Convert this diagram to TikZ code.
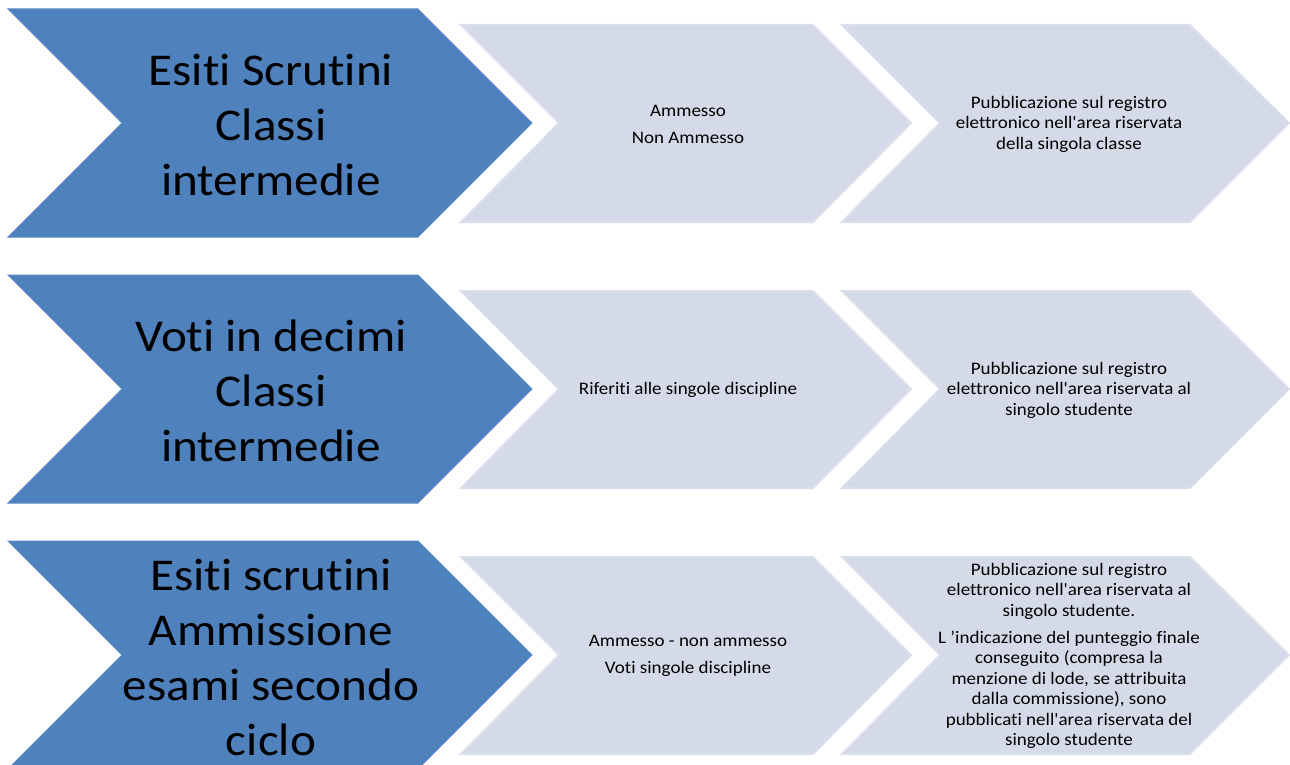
\documentclass[tikz,border=0pt]{standalone}
\usepackage{fontspec}
\setmainfont{Carlito}[FakeStretch=1.08, Ligatures={CommonOff,TeXOff}]
\definecolor{bigblue}{HTML}{4F81BD}
\definecolor{bigedge}{HTML}{5A8AC4}
\definecolor{lightfill}{HTML}{D4DAE7}
\definecolor{lightedge}{HTML}{DADFEB}
\tikzset{
  bigchev/.style={fill=bigblue, draw=bigedge, line width=1pt, line join=miter},
  lightchev/.style={fill=lightfill, draw=lightedge, line width=2pt, line join=miter},
  bigtxt/.style={align=center, inner sep=0pt, font=\fontsize{45.5}{55}\selectfont},
  smalltxt/.style={align=center, inner sep=0pt, font=\fontsize{17.6}{20.5}\selectfont}
}
\begin{document}
\begin{tikzpicture}[x=1pt,y=-1pt]
\useasboundingbox (0,0) rectangle (1290,765);
\fill[white] (0,0) rectangle (1290,765);
\foreach \o in {0,266,532}{
  \path[bigchev] (8,9+\o) -- (418,9+\o) -- (532,123+\o) -- (418,237+\o) -- (8,237+\o) -- (122,123+\o) -- cycle;
  \path[lightchev] (461,25+\o) -- (813,25+\o) -- (911,123+\o) -- (813,222+\o) -- (461,222+\o) -- (559,123+\o) -- cycle;
  \path[lightchev] (842,25+\o) -- (1190,25+\o) -- (1289,123+\o) -- (1190,222+\o) -- (842,222+\o) -- (940,123+\o) -- cycle;
}
% Row 1
\node[bigtxt] (b1) at (271,125) {Esiti Scrutini\\Classi\\intermedie};
\node[smalltxt] (m1) at (688,124) {Ammesso\\[6.5pt]Non Ammesso};
\node[smalltxt] (r1) at (1069,124) {Pubblicazione sul registro\\elettronico nell'area riservata\\della singola classe};
% Row 2
\node[bigtxt] (b2) at (271,391) {Voti in decimi\\Classi\\intermedie};
\node[smalltxt] (m2) at (688,390) {Riferiti alle singole discipline};
\node[smalltxt] (r2) at (1069,390) {Pubblicazione sul registro\\elettronico nell'area riservata al\\singolo studente};
% Row 3
\node[bigtxt] (b3) at (271,657) {Esiti scrutini\\Ammissione\\esami secondo\\ciclo};
\node[smalltxt] (m3) at (688,656) {Ammesso - non ammesso\\[6.5pt]Voti singole discipline};
\node[smalltxt] (r3) at (1069,656) {Pubblicazione sul registro\\elettronico nell'area riservata al\\singolo studente.\\[6.5pt]L ’indicazione del punteggio finale\\conseguito (compresa la\\menzione di lode, se attribuita\\dalla commissione), sono\\pubblicati nell'area riservata del\\singolo studente};
\end{tikzpicture}
\end{document}
